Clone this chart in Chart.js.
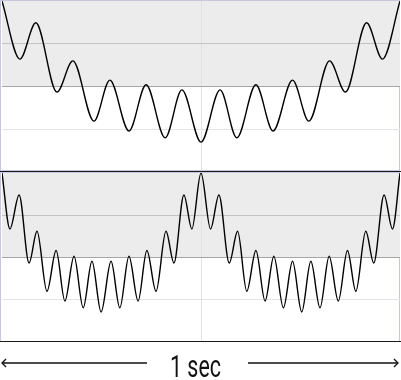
<!DOCTYPE html>
<html>
<head>
<meta charset="utf-8">
<script src="https://cdn.jsdelivr.net/npm/chart.js@4/dist/chart.umd.min.js"></script>
<style>
  html, body { margin: 0; padding: 0; background: #fff; }
  #wrap { position: relative; width: 401px; height: 380px; overflow: hidden; }
  .panel { position: absolute; left: 0; width: 400px; border: 1px solid #c6c6de; box-sizing: border-box; }
  .panel canvas { position: absolute; left: 1px; top: 0; }
  .rule { position: absolute; left: 0; width: 401px; height: 1px; background: #1a1a1a; }
  svg { position: absolute; left: 0; top: 342px; }
</style>
</head>
<body>
<div id="wrap">
  <div class="panel" style="top:0; height:171px;"><canvas id="top" width="398" height="171"></canvas></div>
  <div class="rule" style="top:171px;"></div>
  <div class="panel" style="top:172px; height:170px;"><canvas id="bottom" width="398" height="169"></canvas></div>
  <div class="rule" style="top:341px;"></div>
  <svg width="401" height="38">
    <g stroke="#111" stroke-width="1.3" fill="none">
      <line x1="2" y1="21" x2="147" y2="21"/>
      <polyline points="6,17 2,21 6,25"/>
      <line x1="248" y1="21" x2="398" y2="21"/>
      <polyline points="394,17 398,21 394,25"/>
    </g>
    <text x="170" y="34.7" font-family="Roboto, 'DejaVu Sans'" font-size="31" textLength="51" lengthAdjust="spacingAndGlyphs" fill="#111">1 sec</text>
  </svg>
</div>
<script>
// signal (time in sec, amplitude in grid units)
const topTimes = [0, 0.045, 0.085, 0.138, 0.178, 0.231, 0.271, 0.319, 0.362, 0.410, 0.452, 0.5,
  0.548, 0.590, 0.638, 0.681, 0.730, 0.771, 0.823, 0.863, 0.916, 0.956, 1.0];
const topValues = [2.0, 0.64, 1.49, -0.13, 0.60, -0.81, 0.15, -1.04, 0.04, -1.20, -0.08, -1.30,
  -0.08, -1.20, 0.04, -1.04, 0.15, -0.81, 0.60, -0.13, 1.49, 0.64, 2.0];

const bottomTimes = [0, 0.020, 0.043, 0.068, 0.088, 0.113, 0.136, 0.158, 0.181, 0.204, 0.226, 0.249,
  0.274, 0.296, 0.319, 0.342, 0.364, 0.387, 0.412, 0.432, 0.457, 0.477, 0.5,
  0.524, 0.545, 0.571, 0.592, 0.615, 0.638, 0.661, 0.683, 0.707, 0.730, 0.753,
  0.776, 0.799, 0.822, 0.845, 0.868, 0.889, 0.914, 0.934, 0.960, 0.981, 1.0];
const bottomValues = [2.0, 0.675, 1.48, -0.13, 0.62, -0.80, 0.165, -1.03, 0.03, -1.19, -0.09, -1.29,
  -0.09, -1.19, 0.03, -1.03, 0.165, -0.80, 0.62, -0.13, 1.48, 0.675, 2.0,
  0.675, 1.48, -0.13, 0.62, -0.80, 0.165, -1.03, 0.03, -1.19, -0.09, -1.29,
  -0.09, -1.19, 0.03, -1.03, 0.165, -0.80, 0.62, -0.13, 1.48, 0.675, 2.0];

const yGridLines = [-1, 0, 1];

// shade the upper half of each panel
const upperShade = {
  id: 'upperShade',
  beforeDraw(chart) {
    const { ctx, chartArea } = chart;
    const y0 = chart.scales.y.getPixelForValue(0);
    ctx.save();
    ctx.fillStyle = '#ececec';
    ctx.fillRect(chartArea.left, chartArea.top, chartArea.right - chartArea.left, y0 - chartArea.top);
    ctx.restore();
  }
};

function makeChart(id, times, values) {
  const ctx = document.getElementById(id).getContext('2d');
  return new Chart(ctx, {
    type: 'line',
    data: {
      datasets: [{
        data: times.map((t, i) => ({ x: t, y: values[i] })),
        borderColor: '#000',
        borderWidth: 1.4,
        pointRadius: 0,
        fill: false,
        cubicInterpolationMode: 'monotone'
      }]
    },
    options: {
      responsive: false,
      animation: false,
      devicePixelRatio: 1,
      layout: { padding: 0 },
      plugins: { legend: { display: false }, tooltip: { enabled: false } },
      scales: {
        x: {
          type: 'linear', min: 0, max: 1,
          ticks: { display: false, stepSize: 0.5 },
          border: { display: false },
          grid: {
            drawTicks: false,
            color: c => c.tick && c.tick.value === 0.5 ? '#e2e2e2' : 'rgba(0,0,0,0)'
          }
        },
        y: {
          min: -2, max: 2,
          ticks: { display: false, stepSize: 1 },
          border: { display: false },
          grid: {
            drawTicks: false,
            color: c => {
              if (!c.tick || !yGridLines.includes(c.tick.value)) return 'rgba(0,0,0,0)';
              if (c.tick.value === 0) return '#a6a6a6';
              if (c.tick.value === 1) return '#c4c4c4';
              return '#e4e4e4';
            }
          }
        }
      }
    },
    plugins: [upperShade]
  });
}

makeChart('top', topTimes, topValues);
makeChart('bottom', bottomTimes, bottomValues);
</script>
</body>
</html>
